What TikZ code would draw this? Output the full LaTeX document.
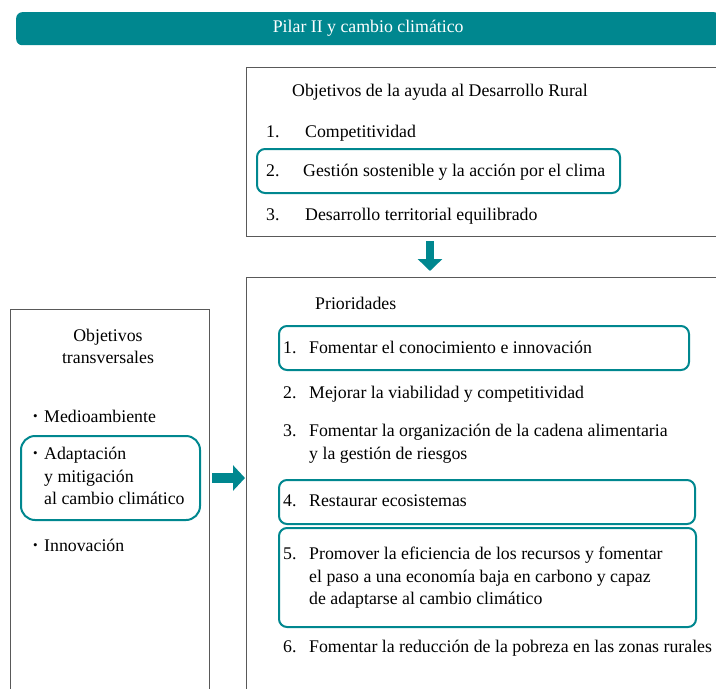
\documentclass[tikz,border=0pt]{standalone}
\usepackage{fontspec}
\setmainfont{Liberation Serif}
\usetikzlibrary{positioning, arrows.meta}
\definecolor{pilarteal}{HTML}{00878F}

\begin{document}
\begin{tikzpicture}[
    x=1pt, y=-1pt,
    font=\fontsize{17.8}{22}\selectfont,
    header/.style={
        fill=pilarteal, text=white, rounded corners=6pt,
        anchor=north west, inner sep=0pt,
        minimum width=704pt, minimum height=33pt,
    },
    frame/.style={draw=black!65, line width=1pt, anchor=north west, inner sep=0pt},
    hl/.style={draw=pilarteal, line width=2pt, rounded corners=8pt, anchor=north west, inner sep=0pt},
    item/.style={anchor=base west, inner sep=0pt},
    dot/.style={item, font=\fontsize{13}{13}\selectfont, yshift=1.8pt},
    downarrow/.style={draw=pilarteal, line width=8pt, -{Triangle[length=12pt, width=24pt]}},
    rightarrow/.style={draw=pilarteal, line width=10pt, -{Triangle[length=12pt, width=25pt]}},
]
\useasboundingbox (0,0) rectangle (716,689);
\clip (0,0) rectangle (716,689);

% ============ HEADER ============
\node[header] (pilar) at (16,12) {Pilar II y cambio climático};

% ============ OBJETIVOS DE LA AYUDA ============
\node[frame, minimum width=500pt, minimum height=169pt] (aims) at (246,67) {};
\node[item] (aimstitle) at (292,96) {Objetivos de la ayuda al Desarrollo Rural};

\node[hl, minimum width=363pt, minimum height=44pt] (hlclima) at (256,148) {};

\node[item] (aimnum1) at (266,137) {1.};
\node[item] (aim1)    at (305,137) {Competitividad};
\node[item] (aimnum2) at (266,176) {2.};
\node[item] (aim2)    at (303,176) {Gestión sostenible y la acción por el clima};
\node[item] (aimnum3) at (266,220) {3.};
\node[item] (aim3)    at (305,220) {Desarrollo territorial equilibrado};

% ============ PRIORIDADES ============
\node[frame, minimum width=500pt, minimum height=430pt] (prio) at (246,277) {};
\node[item] (priotitle) at (315,309) {Prioridades};

\node[hl, minimum width=410pt, minimum height=44pt] (hlknow)   at (278,325) {};
\node[hl, minimum width=416pt, minimum height=44pt] (hleco)    at (278,479) {};
\node[hl, minimum width=417pt, minimum height=99pt] (hlcarbon) at (278,527) {};

\node[item] (prionum1) at (283,353) {1.};
\node[item] (prio1)    at (309,353) {Fomentar el conocimiento e innovación};
\node[item] (prionum2) at (283,398) {2.};
\node[item] (prio2)    at (309,398) {Mejorar la viabilidad y competitividad};
\node[item] (prionum3) at (283,436) {3.};
\node[item] (prio3a)   at (309,436) {Fomentar la organización de la cadena alimentaria};
\node[item] (prio3b)   at (309,459) {y la gestión de riesgos};
\node[item] (prionum4) at (283,506) {4.};
\node[item] (prio4)    at (309,506) {Restaurar ecosistemas};
\node[item] (prionum5) at (283,559) {5.};
\node[item] (prio5a)   at (309,559) {Promover la eficiencia de los recursos y fomentar};
\node[item] (prio5b)   at (309,582) {el paso a una economía baja en carbono y capaz};
\node[item] (prio5c)   at (309,604) {de adaptarse al cambio climático};
\node[item] (prionum6) at (283,652) {6.};
\node[item] (prio6)    at (309,652) {Fomentar la reducción de la pobreza en las zonas rurales};

% ============ OBJETIVOS TRANSVERSALES ============
\node[frame, minimum width=199pt, minimum height=400pt] (transv) at (10,309) {};
\node[anchor=base, inner sep=0pt] (transvtitle1) at (108,341) {Objetivos};
\node[anchor=base, inner sep=0pt] (transvtitle2) at (108,363) {transversales};

\node[hl, rounded corners=14pt, minimum width=179pt, minimum height=84pt] (hladapt) at (20,435) {};

\node[dot]  (bullet1) at (33,422) {\textbullet};
\node[item] (medio)   at (44,422) {Medioambiente};
\node[dot]  (bullet2) at (33,459) {\textbullet};
\node[item] (adapt1)  at (44,459) {Adaptación};
\node[item] (adapt2)  at (44,482) {y mitigación};
\node[item] (adapt3)  at (44,504) {al cambio climático};
\node[dot]  (bullet3) at (33,551) {\textbullet};
\node[item] (innov)   at (44,551) {Innovación};

% ============ ARROWS ============
\draw[downarrow, shorten <=4pt, shorten >=6pt]
    ([xshift=184pt]aims.south west) -- ([xshift=184pt]prio.north west);
\draw[rightarrow, shorten <=2pt, shorten >=1pt]
    (transv.east |- hladapt.east) -- (prio.west |- hladapt.east);

\end{tikzpicture}
\end{document}
